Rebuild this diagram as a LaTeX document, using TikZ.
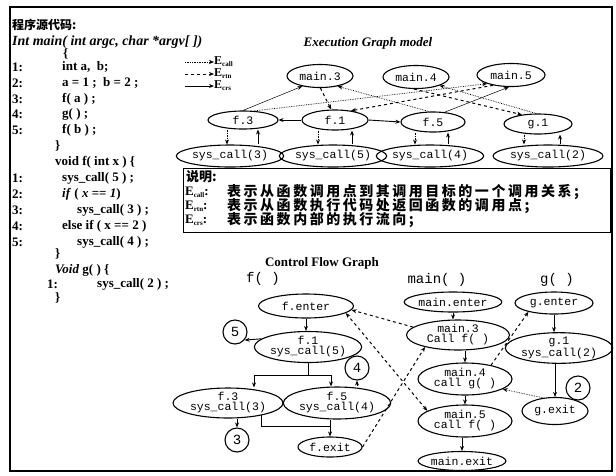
\documentclass[tikz,border=0pt]{standalone}
\usepackage{fontspec}
\setmainfont{Liberation Serif}
\setmonofont{Liberation Mono}
\newfontfamily\cjk{Noto Sans CJK SC}
\newfontfamily\cjkwide[LetterSpace=18]{Noto Sans CJK SC}
\usetikzlibrary{arrows.meta,shapes.geometric}

\newcommand\Esub[1]{E\raisebox{-0.35ex}{\bfseries\fontsize{7}{7}\selectfont #1}}

\tikzset{
  code/.style={anchor=west, inner sep=0pt, font=\bfseries\fontsize{13}{13}\selectfont},
  ev/.style={draw, ellipse, line width=1.1pt, inner sep=0pt, align=center,
    font=\ttfamily\fontsize{11.5}{10}\selectfont},
  num/.style={draw, circle, line width=1.1pt, inner sep=0pt, minimum size=24pt,
    font=\ttfamily\fontsize{14}{14}\selectfont},
  calle/.style={densely dotted, line width=0.7pt, -{Stealth[length=5pt,width=4pt]}},
  rtne/.style={dashed, line width=1pt, -{Stealth[length=5pt,width=4pt]}},
  crse/.style={line width=0.9pt, -{Stealth[length=5pt,width=4pt]}},
  thine/.style={line width=0.5pt, -{Stealth[length=5pt,width=4pt]}},
}

\begin{document}
\begin{tikzpicture}[x=1pt,y=-1pt]
\useasboundingbox (0,0) rectangle (616,475);
\draw[line width=1.2pt] (10,7) rectangle (612,471);

% source code
\node[code, font=\cjk\bfseries\fontsize{12}{12}\selectfont] (src) at (12,25) {程序源代码:};
\node[code, font=\bfseries\itshape\fontsize{14}{14}\selectfont] (msig) at (12,42) {Int main( int argc, char *argv[ ])};
\foreach \n/\y in {1/67,2/83,3/99,4/114,5/130}
  \node[code] (lm\n) at (12,\y) {\n:};
\node[code] (l0) at (63,54) {\{};
\node[code] (l1) at (62,67) {int a,~~b;};
\node[code] (l2) at (62,83) {a = 1 ;~~b = 2 ;};
\node[code] (l3) at (62,99) {f( a ) ;};
\node[code] (l4) at (62,114) {g( ) ;};
\node[code] (l5) at (62,130) {f( b ) ;};
\node[code] (l6) at (55,146) {\}};
\node[code] (fsig) at (55,162) {void f( int x ) \{};
\foreach \n/\y in {1/178,2/194,3/210,4/226,5/242}
  \node[code] (lf\n) at (12,\y) {\n:};
\node[code] (k1) at (62,178) {sys\_call( 5 ) ;};
\node[code] (k2) at (62,194) {\textit{if} ( \textit{x} == \textit{1})};
\node[code] (k3) at (77,210) {sys\_call( 3 ) ;};
\node[code] (k4) at (62,226) {else if ( x == 2 )};
\node[code] (k5) at (77,242) {sys\_call( 4 ) ;};
\node[code] (k6) at (55,254) {\}};
\node[code] (gsig) at (55,270) {\textit{Void} g( ) \{};
\node[code] (lg1) at (47,284) {1:};
\node[code] (q1) at (97,284) {sys\_call( 2 ) ;};
\node[code] (q2) at (55,298) {\}};

% execution graph
\node[code, anchor=center, font=\bfseries\itshape\fontsize{13}{13}\selectfont] (egm) at (368,43) {Execution Graph model};
\coordinate (ecall0) at (185,62);
\coordinate (ertn0) at (185,74);
\coordinate (ecrs0) at (185,86);
\node[code, font=\bfseries\fontsize{12}{12}\selectfont] (ecall) at (214,62) {\Esub{call}};
\node[code, font=\bfseries\fontsize{12}{12}\selectfont] (ertn) at (214,74) {\Esub{rtn}};
\node[code, font=\bfseries\fontsize{12}{12}\selectfont] (ecrs) at (214,86) {\Esub{crs}};
\draw[calle] (ecall0) -- (ecall);
\draw[rtne] (ertn0) -- (ertn);
\draw[crse] (ecrs0) -- (ecrs);

\node[ev, minimum width=66, minimum height=23] (m3) at (320,76) {main.3};
\node[ev, minimum width=66, minimum height=23] (m4) at (416,77) {main.4};
\node[ev, minimum width=68, minimum height=23] (m5) at (511,75) {main.5};
\node[ev, minimum width=70, minimum height=18] (f3) at (243,120) {f.3};
\node[ev, minimum width=66, minimum height=20] (f1) at (335,120) {f.1};
\node[ev, minimum width=64, minimum height=20] (f5) at (433,122) {f.5};
\node[ev, minimum width=68, minimum height=20] (g1) at (538,124) {g.1};
\node[ev, minimum width=100, minimum height=22] (s3) at (230,156) {sys\_call(3)};
\node[ev, minimum width=92, minimum height=22] (s5) at (333,156) {sys\_call(5)};
\node[ev, minimum width=86, minimum height=22] (s4) at (430,156) {sys\_call(4)};
\node[ev, minimum width=110, minimum height=22] (s2) at (548,156) {sys\_call(2)};

\foreach \a/\b/\l/\r in {f3/s3/-16/15, f1/s5/-17/17, f5/s4/-18/15, g1/s2/-14/22}{
  \draw[calle] ([xshift=\l pt]\a.south) -- ([xshift=\l pt]\a.south |- \b.north);
  \draw[crse] ([xshift=\r pt]\a.south |- \b.north) -- ([xshift=\r pt]\a.south);
}
\draw[thine] (f3.north) -- (m3.-150);
\draw[rtne] (m3.-88) -- (f1.110);
\draw[crse] (f1.west) -- (f3.east);
\draw[calle] (f3.40) -- (m5.-160);
\draw[calle] (f5.110) -- (m3.-30);
\draw[crse] (f1.east) -- (f5.west);
\draw[rtne] (m5.-150) -- (f1.30);
\draw[rtne] (m4.-100) -- (g1.150);
\draw[calle] (g1.100) -- (m4.-20);
\draw[thine] (f5.40) -- (m5.-100);

% legend
\draw[line width=1pt] (183,168) rectangle (610,232);
\node[code, font=\cjk\bfseries\fontsize{13}{13}\selectfont] (sm) at (186,177) {说明:};
\node[code] (tcall) at (185,192) {\Esub{call}:};
\node[code] (trtn) at (185,206) {\Esub{rtn}:};
\node[code] (tcrs) at (185,220) {\Esub{crs}:};
\node[code, font=\cjkwide\bfseries\fontsize{14}{14}\selectfont] (dcall) at (227,192) {表示从函数调用点到其调用目标的一个调用关系;};
\node[code, font=\cjkwide\bfseries\fontsize{14}{14}\selectfont] (drtn) at (227,206) {表示从函数执行代码处返回函数的调用点;};
\node[code, font=\cjkwide\bfseries\fontsize{14}{14}\selectfont] (dcrs) at (227,220) {表示函数内部的执行流向;};

% control flow graph
\node[code, anchor=center] (cfg) at (322,263) {Control Flow Graph};
\node[code, anchor=center, font=\ttfamily\fontsize{14}{14}\selectfont] (hf) at (263,279) {f( )};
\node[code, anchor=center, font=\ttfamily\fontsize{14}{14}\selectfont] (hm) at (437,280) {main( )};
\node[code, anchor=center, font=\ttfamily\fontsize{14}{14}\selectfont] (hg) at (557,280) {g( )};

\node[ev, minimum width=95, minimum height=24] (fen) at (306,306) {f.enter};
\node[ev, minimum width=97, minimum height=31] (fa) at (308,347) {f.1\\sys\_call(5)};
\node[ev, minimum width=110, minimum height=30] (fb) at (228,403) {f.3\\sys\_call(3)};
\node[ev, minimum width=107, minimum height=32] (fc) at (337,403) {f.5\\sys\_call(4)};
\node[ev, minimum width=64, minimum height=20] (fex) at (330,447) {f.exit};
\node[num] (c5) at (235,332) {5};
\node[num] (c4) at (357,368) {4};
\node[num] (c3) at (237,440) {3};

\node[ev, minimum width=93, minimum height=20] (men) at (453,302) {main.enter};
\node[ev, minimum width=103, minimum height=30] (ma) at (458,335) {main.3\\Call f( )};
\node[ev, minimum width=94, minimum height=32] (mb) at (465,379) {main.4\\call g( )};
\node[ev, minimum width=94, minimum height=32] (mc) at (465,421) {main.5\\call f( )};
\node[ev, minimum width=83, minimum height=19] (mex) at (462,461) {main.exit};

\node[ev, minimum width=78, minimum height=22] (gen) at (554,303) {g.enter};
\node[ev, minimum width=102, minimum height=30] (ga) at (559,348) {g.1\\sys\_call(2)};
\node[ev, minimum width=66, minimum height=27] (gex) at (555,411) {g.exit};
\node[num] (c2) at (578,388) {2};

\draw[crse] (fen) -- (fen |- fa.north);
\draw[crse] (fa.170) -- (c5.-40);
\coordinate (fsplit) at ([yshift=-12pt]fa.south);
\draw[line width=0.9pt] (fa.south) -- (fsplit);
\draw[crse] (fsplit) -| ([xshift=26pt]fb.north);
\draw[crse] (fsplit) -| ([xshift=-6pt]fc.north);
\draw[crse] (c3 |- fb.south) -- (c3.north);
\draw[crse] (c4 |- fc.north) -- (c4.south);
\draw[line width=0.9pt] (fb.-20) |- ([yshift=10pt]fex.north);
\draw[crse] (fc.south -| fex.north) -- (fex.north);

\draw[crse] (men) -- (men |- ma.north);
\draw[crse] (ma.south -| mb.north) -- (mb.north);
\draw[crse] (mb) -- (mb |- mc.north);
\draw[crse] (mc.south -| mex.north) -- (mex.north);
\draw[crse] (gen) -- (gen |- ga.north);
\draw[crse] (gex |- ga.south) -- (gex.north);

\draw[rtne] (ma.170) -- (fen.-5);
\draw[rtne, {Stealth[length=5pt,width=4pt]}-{Stealth[length=5pt,width=4pt]}] (mc.165) -- (fen.-10);
\draw[rtne] (fex.east) -- (ma.-160);
\draw[rtne] (mb.28) -- (gen.-161);
\draw[calle] (gex.132) -- (mb.-15);
\end{tikzpicture}
\end{document}
